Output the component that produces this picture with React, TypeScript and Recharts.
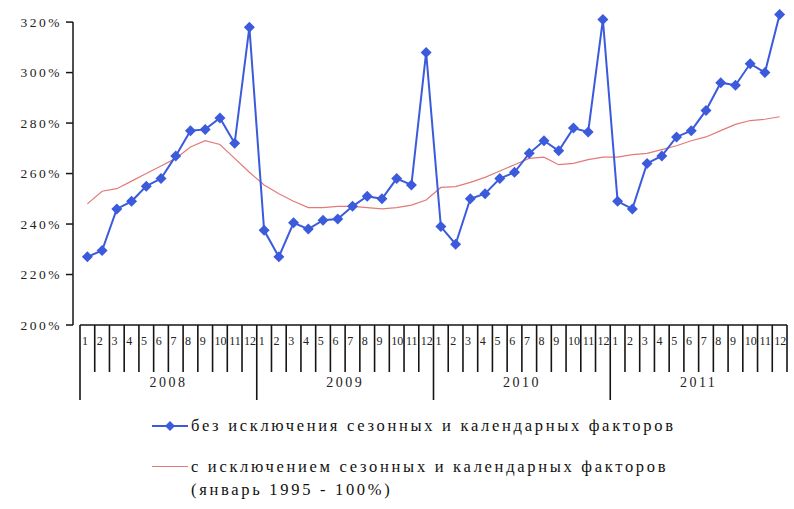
import { LineChart, Line, XAxis, YAxis, Legend } from 'recharts';

const years = ['2008', '2009', '2010', '2011'];
const monthLabels = ['1', '2', '3', '4', '5', '6', '7', '8', '9', '10', '11', '12'];
const yTicks = [200, 220, 240, 260, 280, 300, 320];

// без исключения сезонных и календарных факторов
const rawValues = [
  227, 229.5, 246, 249, 255, 258, 267, 277, 277.5, 282, 272, 318,
  237.5, 227, 240.5, 238, 241.5, 242, 247, 251, 250, 258, 255.5, 308,
  239, 232, 250, 252, 258, 260.5, 268, 273, 269, 278, 276.5, 321,
  249, 246, 264, 267, 274.5, 277, 285, 296, 295, 303.5, 300, 323,
];

// с исключением сезонных и календарных факторов
const adjValues = [
  248, 253, 254, 257, 260, 263, 266, 270.5, 273, 271.5, 266, 260.5,
  255.5, 252, 249, 246.5, 246.5, 247, 247, 246.5, 246, 246.5, 247.5, 249.5,
  254.5, 254.8, 256.5, 258.5, 261, 263.5, 266, 266.5, 263.5, 264, 265.5, 266.5,
  266.5, 267.5, 268, 269.5, 271, 273, 274.5, 277, 279.5, 281, 281.5, 282.5,
];

const legendRaw = 'без исключения сезонных и календарных факторов';
const legendAdj = 'с исключением сезонных и календарных факторов';
const legendAdj2 = '(январь 1995 - 100%)';

const data = rawValues.map((v, i) => ({
  key: `${years[Math.floor(i / 12)]}-${monthLabels[i % 12]}`,
  raw: v,
  adj: adjValues[i],
}));

const W = 794;
const H = 509;
const Y_W = 80;
const M_RIGHT = 7;
const M_TOP = 12;
const X_H = 184;
const Y_MIN = 200;
const Y_MAX = 324;
const BW = (W - Y_W - M_RIGHT) / data.length;
const PX_PER_UNIT = (H - M_TOP - X_H) / (Y_MAX - Y_MIN);
const BLUE = '#3b5bdc';
const RED = '#e27a7a';
const INK = '#151515';
const FONT = '"Liberation Serif", "DejaVu Serif", serif';

const Diamond = (props: any) => {
  const { cx, cy } = props;
  if (cx == null || cy == null) return null;
  return <path d={`M${cx},${cy - 5.5}L${cx + 5.5},${cy}L${cx},${cy + 5.5}L${cx - 5.5},${cy}Z`} fill={BLUE} />;
};

const YTick = (props: any) => {
  const { x, y, payload } = props;
  const v = payload.value;
  const axisX = x + 11;
  return (
    <g>
      <line x1={axisX - 7} y1={y} x2={axisX} y2={y} stroke={INK} strokeWidth={1.5} />
      {v < yTicks[yTicks.length - 1] && (
        <line x1={axisX} y1={y} x2={axisX} y2={y - 20 * PX_PER_UNIT} stroke={INK} strokeWidth={1.5} />
      )}
      <text x={x} y={y} dy={4.5} textAnchor="end" fontSize={13.5} letterSpacing={2.5} fontFamily={FONT} fill="#222">
        {`${v}%`}
      </text>
    </g>
  );
};

const XTick = (props: any) => {
  const { x, y, payload } = props;
  const i = payload.index;
  const m = i % 12;
  const left = x - BW / 2;
  return (
    <g>
      <line x1={left} y1={y} x2={left} y2={y + (m === 0 ? 75 : 47)} stroke={INK} strokeWidth={1.6} />
      {i === data.length - 1 && (
        <line x1={left + BW} y1={y} x2={left + BW} y2={y + 47} stroke={INK} strokeWidth={1.6} />
      )}
      <text x={left + 2} y={y + 20} fontSize={12} fontFamily={FONT} fill="#222">
        {monthLabels[m]}
      </text>
      {m === 6 && (
        <text x={left} y={y + 62} fontSize={14} letterSpacing={2.5} fontFamily={FONT} fill="#222" textAnchor="middle">
          {years[Math.floor(i / 12)]}
        </text>
      )}
    </g>
  );
};

const LegendBox = () => (
  <div style={{ fontFamily: FONT, fontSize: 16.5, letterSpacing: 2.7, color: '#111', lineHeight: '23px' }}>
    <div style={{ display: 'flex', alignItems: 'center', height: 23 }}>
      <svg width={36} height={12} style={{ marginRight: 3 }}>
        <line x1={0} y1={6} x2={36} y2={6} stroke={BLUE} strokeWidth={2} />
        <path d="M18,1L23,6L18,11L13,6Z" fill={BLUE} />
      </svg>
      <span>{legendRaw}</span>
    </div>
    <div style={{ display: 'flex', alignItems: 'flex-start', marginTop: 18 }}>
      <svg width={36} height={23} style={{ marginRight: 3 }}>
        <line x1={0} y1={11.5} x2={36} y2={11.5} stroke={RED} strokeWidth={1.2} />
      </svg>
      <span>
        {legendAdj}
        <br />
        {legendAdj2}
      </span>
    </div>
  </div>
);

export default function App() {
  return (
    <div style={{ position: 'absolute', left: 0, top: 0, background: '#fff' }}>
      <LineChart width={W} height={H} data={data} margin={{ top: M_TOP, right: M_RIGHT, bottom: 0, left: 0 }}>
        <XAxis
          dataKey="key"
          scale="band"
          interval={0}
          height={X_H}
          tickLine={false}
          tickSize={0}
          tickMargin={0}
          axisLine={{ stroke: INK, strokeWidth: 1.6 }}
          tick={<XTick />}
        />
        <YAxis
          width={Y_W}
          domain={[Y_MIN, Y_MAX]}
          ticks={yTicks}
          tickSize={7}
          tickMargin={11}
          axisLine={false}
          tickLine={false}
          tick={<YTick />}
        />
        <Line
          dataKey="adj"
          stroke={RED}
          strokeWidth={1.2}
          dot={false}
          isAnimationActive={false}
        />
        <Line
          dataKey="raw"
          stroke={BLUE}
          strokeWidth={2}
          dot={<Diamond />}
          activeDot={false}
          isAnimationActive={false}
        />
        <Legend
          layout="vertical"
          align="center"
          verticalAlign="middle"
          wrapperStyle={{ top: 414, left: 152, width: 640 }}
          content={<LegendBox />}
        />
      </LineChart>
    </div>
  );
}
